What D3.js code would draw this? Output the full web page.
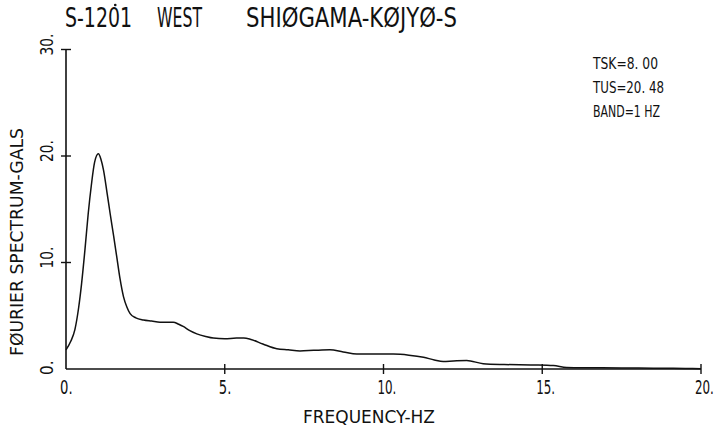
<!DOCTYPE html>
<html>
<head>
<meta charset="utf-8">
<script src="https://cdn.jsdelivr.net/npm/d3@7"></script>
<style>
  html, body { margin: 0; padding: 0; background: #fff; }
  svg { display: block; }
  text { font-family: "DejaVu Sans", sans-serif; fill: #111; }
</style>
</head>
<body>
<svg id="chart" width="724" height="438"></svg>
<script>
// ---- data ----
const frequency = [0, 0.15, 0.28, 0.4, 0.49, 0.6, 0.7, 0.8, 0.9, 1.02, 1.1, 1.18, 1.3, 1.39, 1.5, 1.6, 1.7, 1.81, 1.92, 2.02,
  2.2, 2.44, 2.7, 2.96, 3.2, 3.38, 3.55, 3.69, 3.9, 4.12, 4.4, 4.64, 5.0, 5.37, 5.6, 5.8, 6.2, 6.64, 7.0, 7.37,
  7.8, 8.31, 8.73, 9.16, 9.7, 10.31, 10.8, 11.26, 11.6, 11.88, 12.2, 12.62, 13.14, 13.8, 14.72, 15.35, 15.77, 16.5,
  17.5, 18.5, 19.5, 20];
const spectrum = [1.8, 2.6, 3.7, 5.8, 8.0, 11.3, 14.6, 17.3, 19.4, 20.2, 19.7, 18.7, 16.4, 14.6, 12.5, 10.5, 8.5, 6.8, 5.8, 5.2,
  4.8, 4.6, 4.5, 4.4, 4.4, 4.4, 4.2, 4.0, 3.6, 3.3, 3.05, 2.9, 2.85, 2.9, 2.9, 2.8, 2.35, 1.9, 1.8, 1.7,
  1.75, 1.8, 1.6, 1.4, 1.4, 1.4, 1.3, 1.1, 0.85, 0.7, 0.75, 0.8, 0.5, 0.42, 0.38, 0.32, 0.15, 0.12,
  0.1, 0.08, 0.05, 0.03];
const xTicks = [0, 5, 10, 15, 20];
const xTickLabels = ["0.", "5.", "10.", "15.", "20."];
const yTicks = [0, 10, 20, 30];
const yTickLabels = ["0.", "10.", "20.", "30."];
const titleParts = ["S-1201", "WEST", "SHI\u00d8GAMA-K\u00d8JY\u00d8-S"];
const notes = ["TSK=8. 00", "TUS=20. 48", "BAND=1 HZ"];
const xTitle = "FREQUENCY-HZ";
const yTitle = "F\u00d8URIER SPECTRUM-GALS";

// ---- layout ----
const svg = d3.select("#chart");
const x = d3.scaleLinear().domain([0, 20]).range([66, 701]);
const y = d3.scaleLinear().domain([0, 30]).range([369, 49.5]);
const ink = "#111";

// axes lines
svg.append("line").attr("x1", x(0)).attr("x2", x(20)).attr("y1", y(0)).attr("y2", y(0))
  .attr("stroke", ink).attr("stroke-width", 1.6);
svg.append("line").attr("x1", x(0)).attr("x2", x(0)).attr("y1", y(0)).attr("y2", y(30))
  .attr("stroke", ink).attr("stroke-width", 1.6);

// x ticks (crossing)
svg.selectAll(".xt").data(xTicks.filter(d => d > 0)).join("line")
  .attr("x1", d => x(d)).attr("x2", d => x(d))
  .attr("y1", y(0) - 5).attr("y2", y(0) + 5)
  .attr("stroke", ink).attr("stroke-width", 1.4);
// y ticks (crossing)
svg.selectAll(".yt").data(yTicks.filter(d => d > 0)).join("line")
  .attr("x1", x(0) - 5).attr("x2", x(0) + 5)
  .attr("y1", d => y(d)).attr("y2", d => y(d))
  .attr("stroke", ink).attr("stroke-width", 1.4);

// x tick labels
svg.selectAll(".xl").data(xTicks).join("text")
  .attr("x", d => x(d) - 6).attr("y", y(0) + 25)
  .attr("font-size", 19)
  .attr("textLength", (d, i) => xTickLabels[i].length * 6.3)
  .attr("lengthAdjust", "spacingAndGlyphs")
  .text((d, i) => xTickLabels[i]);

// y tick labels (rotated)
svg.selectAll(".yl").data(yTicks).join("text")
  .attr("transform", d => `translate(53,${y(d) + 6}) rotate(-90)`)
  .attr("font-size", 18)
  .attr("textLength", (d, i) => yTickLabels[i].length * 7.3)
  .attr("lengthAdjust", "spacingAndGlyphs")
  .text((d, i) => yTickLabels[i]);

// title
const titleX = [65, 157, 246];
const titleW = [67, 45, 211];
svg.selectAll(".title").data(titleParts).join("text")
  .attr("x", (d, i) => titleX[i]).attr("y", 27)
  .attr("font-size", 26)
  .attr("textLength", (d, i) => titleW[i])
  .attr("lengthAdjust", "spacingAndGlyphs")
  .text(d => d);
// dot over the zero in S-1201
svg.append("circle").attr("cx", 65 + 67 * 4.5 / 6).attr("cy", 5).attr("r", 1.3).attr("fill", ink);

// notes
const noteW = [65, 71, 67];
svg.selectAll(".note").data(notes).join("text")
  .attr("x", 593).attr("y", (d, i) => 69 + i * 24)
  .attr("font-size", 16)
  .attr("textLength", (d, i) => noteW[i])
  .attr("lengthAdjust", "spacingAndGlyphs")
  .text(d => d);

// axis titles
svg.append("text").attr("x", 369).attr("y", 423).attr("text-anchor", "middle")
  .attr("font-size", 17).attr("textLength", 132).attr("lengthAdjust", "spacingAndGlyphs")
  .text(xTitle);
svg.append("text").attr("transform", "translate(23,242) rotate(-90)").attr("text-anchor", "middle")
  .attr("font-size", 17).attr("textLength", 228).attr("lengthAdjust", "spacingAndGlyphs")
  .text(yTitle);

// spectrum curve
const pts = frequency.map((f, i) => [f, spectrum[i]]);
const line = d3.line().x(d => x(d[0])).y(d => y(d[1])).curve(d3.curveMonotoneX);
svg.append("path").datum(pts).attr("d", line)
  .attr("fill", "none").attr("stroke", ink).attr("stroke-width", 1.5);
</script>
</body>
</html>
